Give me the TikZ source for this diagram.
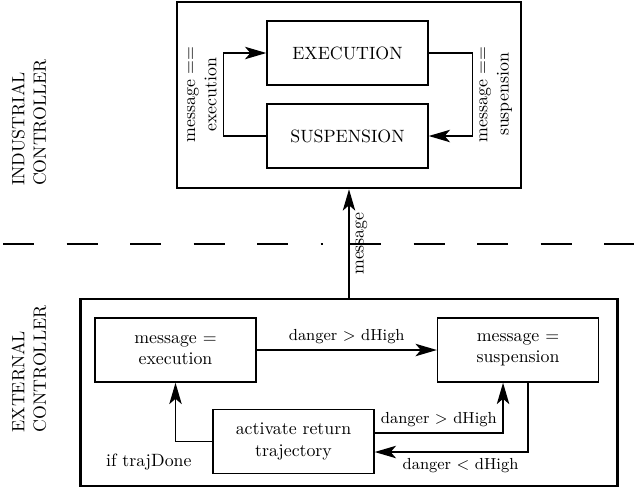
\documentclass[tikz,border=0pt]{standalone}
\usepackage{tikz}
\usetikzlibrary{arrows.meta,positioning}

\begin{document}
\begin{tikzpicture}[>={Stealth[length=12pt,width=7pt,inset=3pt]},x=0.01974cm,y=-0.01974cm,
  state/.style={draw,thick,minimum width=90.4pt,minimum height=36pt,align=center,inner sep=2pt},
  ctrl/.style={draw,line width=1.4pt,inner sep=0pt},
  side/.style={rotate=90,align=left},
  cond/.style={rotate=90,align=center}]
  \useasboundingbox (0,0) rectangle (634,490);
  % industrial controller
  \node[ctrl,minimum width=193.3pt,minimum height=104.5pt] (ind) at (349,95) {};
  \node[state] (exe) at (347.5,53) {EXECUTION};
  \node[state] (sus) at (347.5,136) {SUSPENSION};
  \draw[->,thick] (sus.west) -- ++(-43,0) |- node[pos=0.25,cond,anchor=south] {message $==$\\execution} (exe.west);
  \draw[->,thick] (exe.east) -- ++(44,0) |- node[pos=0.25,cond,anchor=north] {message $==$\\suspension} (sus.east);
  \node[side] (indlbl) at (29,122.5) {INDUSTRIAL\\CONTROLLER};
  % separation
  \draw[thick,dash pattern=on 17.4pt off 18.3pt] (3,244) -- (323,244);
  \draw[thick,dash pattern=on 17.4pt off 18.3pt] (350,244) -- (634,244);
  % external controller
  \node[ctrl,minimum width=301.7pt,minimum height=105pt] (ext) at (349,392.5) {};
  \node[side] (extlbl) at (29,369) {EXTERNAL\\CONTROLLER};
  \node[state] (mexe) at (175.5,350) {message $=$\\execution};
  \node[state] (msus) at (518,350) {message $=$\\suspension};
  \node[state] (ret) at (293.5,441.5) {activate return\\trajectory};
  \draw[->,thick] (mexe) -- node[above,font=\small] {danger $>$ dHigh} (msus);
  \draw[->,thick] (ret.west) -| node[pos=0.5,below=3pt,xshift=-15pt] {if trajDone} (mexe.south);
  \draw[->,thick] ([yshift=4.8pt]ret.east) -| node[pos=0.25,above,font=\small] {danger $>$ dHigh} ([xshift=-8.4pt]msus.south);
  \draw[->,thick] ([xshift=5.6pt]msus.south) |- node[pos=0.72,below,font=\small] {danger $<$ dHigh} ([yshift=-5.9pt]ret.east);
  % message to the industrial controller
  \draw[->,thick] (ext.north) -- node[cond,anchor=north] {message} (ind.south);
\end{tikzpicture}
\end{document}
